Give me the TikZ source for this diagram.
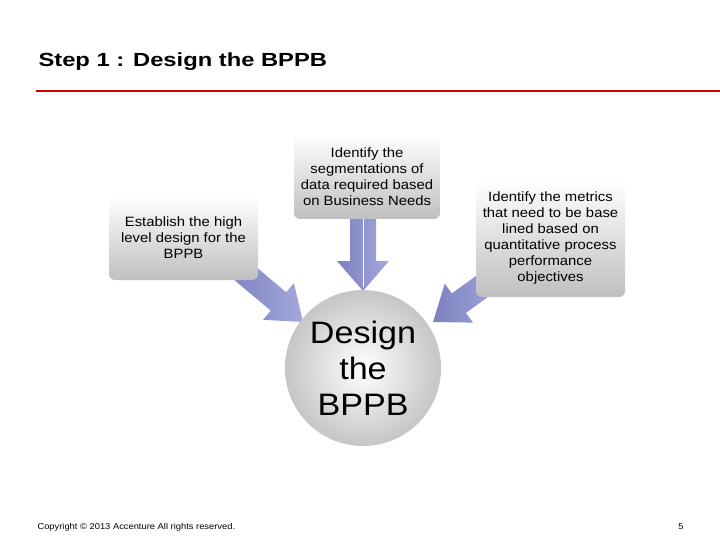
\documentclass[tikz,border=0pt]{standalone}
\usepackage{fontspec}
\setmainfont[FakeStretch=1.1]{Liberation Sans}
\newfontfamily\titlefont[FakeStretch=1.25]{Liberation Sans}
\definecolor{arrA}{HTML}{A4A8DC}
\definecolor{arrB}{HTML}{7C80C0}
\begin{document}
\begin{tikzpicture}[x=1pt,y=-1pt,
  box/.style={rounded corners=6pt,top color=white,bottom color=gray!50,draw=none,align=center,font=\fontsize{13.5}{16}\selectfont,inner sep=2pt},
  arr/.style={left color=arrB,right color=arrA,draw=none}]
\useasboundingbox (0,0) rectangle (720,540);
\node[anchor=west,font=\titlefont\bfseries\fontsize{19}{22}\selectfont] (title) at (35,62) {Step 1 : Design the BPPB};
\coordinate (la) at (36,91); \coordinate (lb) at (720,91);
\draw[red!80!black,line width=1.2pt] (la) -- (lb);
\begin{scope}[shift={(303,322)},rotate=-40]
\path[arr] (0,0) -- (-32,24) -- (-32,12) -- (-92,12) -- (-92,-12) -- (-32,-12) -- (-32,-24) -- cycle;
\end{scope}
\begin{scope}[shift={(363,291)},rotate=-90]
\path[arr] (0,0) -- (-30,26) -- (-30,13) -- (-75,13) -- (-75,-13) -- (-30,-13) -- (-30,-26) -- cycle;
\draw[white,line width=0.8pt] (-75,0) -- (-4,0);
\end{scope}
\begin{scope}[shift={(433,322)},rotate=216]
\path[arr] (0,0) -- (-32,24) -- (-32,12) -- (-82,12) -- (-82,-12) -- (-32,-12) -- (-32,-24) -- cycle;
\end{scope}
\node[box,minimum width=149pt,minimum height=84pt] (b1) at (183.5,238) {Establish the high\\level design for the\\BPPB};
\node[box,minimum width=146pt,minimum height=85pt] (b2) at (367,176.5) {Identify the\\segmentations of\\data required based\\on Business Needs};
\node[box,minimum width=149pt,minimum height=117pt] (b3) at (550.5,238.5) {Identify the metrics\\that need to be base\\lined based on\\quantitative process\\performance\\objectives};
\node[circle,minimum size=156pt,inner color=white,outer color=gray!45,align=center,font=\fontsize{31}{36}\selectfont,inner sep=0pt] (c) at (363,368) {Design\\the\\BPPB};
\node[anchor=west,font=\fontsize{8.5}{9}\selectfont] (copy) at (34,527) {Copyright © 2013 Accenture All rights reserved.};
\node[font=\fontsize{8.5}{9}\selectfont] (pg) at (681,527) {5};
\end{tikzpicture}
\end{document}
